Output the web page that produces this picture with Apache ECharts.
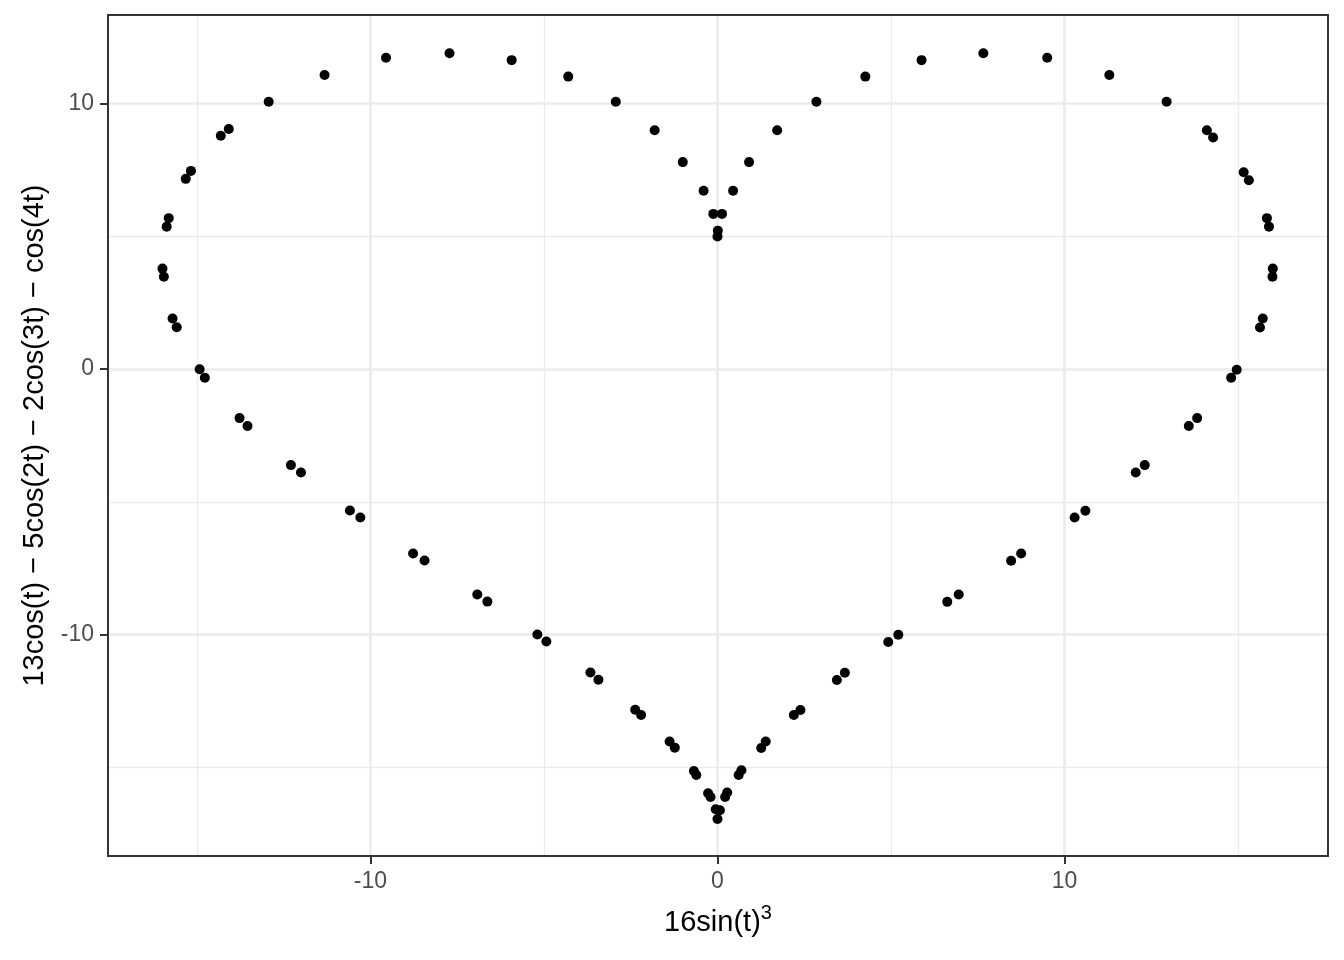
<!DOCTYPE html>
<html>
<head>
<meta charset="utf-8">
<script src="https://cdn.jsdelivr.net/npm/echarts@6/dist/echarts.min.js"></script>
<style>
html,body{margin:0;padding:0;background:#fff;}
#chart{width:1344px;height:960px;}
</style>
</head>
<body>
<div id="chart"></div>
<script>
// Values
const upperLeftX  = [-15.32, -15.17, -14.31, -14.08, -12.93, -11.32, -9.55, -7.72, -5.93, -4.30, -2.93, -1.81, -1.00, -0.40, -0.12];
const upperLeftY  = [7.16, 7.46, 8.78, 9.04, 10.06, 11.07, 11.72, 11.89, 11.63, 11.01, 10.06, 8.99, 7.79, 6.71, 5.84];
const cuspX       = [0.01, 0.00];
const cuspY       = [5.21, 4.99];
const upperRightX = [0.13, 0.45, 0.91, 1.72, 2.85, 4.26, 5.88, 7.66, 9.50, 11.29, 12.94, 14.10, 14.28, 15.16, 15.31];
const upperRightY = [5.84, 6.71, 7.79, 8.99, 10.06, 11.01, 11.63, 11.89, 11.72, 11.07, 10.06, 8.99, 8.72, 7.41, 7.11];
const leftSideX   = [-15.81, -15.87, -15.99, -15.95, -15.70, -15.58, -14.92, -14.77, -13.77, -13.54, -12.29, -12.00];
const leftSideY   = [5.68, 5.36, 3.78, 3.47, 1.90, 1.57, -0.01, -0.33, -1.85, -2.15, -3.62, -3.90];
const rightSideX  = [15.83, 15.89, 16.00, 15.99, 15.71, 15.63, 14.96, 14.80, 13.82, 13.58, 12.31, 12.05];
const rightSideY  = [5.68, 5.36, 3.78, 3.47, 1.90, 1.56, -0.03, -0.33, -1.85, -2.15, -3.62, -3.90];
const lowerLeftX  = [-10.59, -10.29, -8.77, -8.44, -6.92, -6.63, -5.19, -4.93, -3.66, -3.43, -2.37, -2.20, -1.38, -1.23, -0.68, -0.61, -0.27, -0.20];
const lowerLeftY  = [-5.33, -5.59, -6.95, -7.21, -8.49, -8.76, -10.00, -10.26, -11.43, -11.70, -12.83, -13.03, -14.03, -14.26, -15.14, -15.29, -15.98, -16.12];
const lowerRightX = [10.60, 10.29, 8.75, 8.46, 6.95, 6.62, 5.21, 4.92, 3.67, 3.44, 2.39, 2.20, 1.39, 1.26, 0.69, 0.61, 0.28, 0.22];
const lowerRightY = [-5.34, -5.59, -6.95, -7.22, -8.49, -8.77, -10.01, -10.28, -11.44, -11.71, -12.84, -13.03, -14.03, -14.27, -15.11, -15.29, -15.95, -16.12];
const bottomX     = [-0.05, 0.07, 0.00];
const bottomY     = [-16.58, -16.62, -16.95];

const xTicks = [-10, 0, 10];
const yTicks = [-10, 0, 10];
const xMinor = [-15, -5, 5, 15];
const yMinor = [-15, -5, 5];
const xTitle = '16sin(t)';
const xTitleSup = '3';
const yTitle = '13cos(t) \u2212 5cos(2t) \u2212 2cos(3t) \u2212 cos(4t)';

const groupsX = [upperLeftX, cuspX, upperRightX, leftSideX, rightSideX, lowerLeftX, lowerRightX, bottomX];
const groupsY = [upperLeftY, cuspY, upperRightY, leftSideY, rightSideY, lowerLeftY, lowerRightY, bottomY];
const points = [];
groupsX.forEach((gx, g) => gx.forEach((v, i) => points.push([v, groupsY[g][i]])));

const FONT = "'Liberation Sans', Arial, Helvetica, sans-serif";
const gridColor = '#EBEBEB';

const gridLines = [];
xTicks.forEach(v => gridLines.push({xAxis: v, lineStyle: {color: gridColor, width: 2.6, type: 'solid'}}));
yTicks.forEach(v => gridLines.push({yAxis: v, lineStyle: {color: gridColor, width: 2.6, type: 'solid'}}));
xMinor.forEach(v => gridLines.push({xAxis: v, lineStyle: {color: gridColor, width: 1.3, type: 'solid'}}));
yMinor.forEach(v => gridLines.push({yAxis: v, lineStyle: {color: gridColor, width: 1.3, type: 'solid'}}));

const chart = echarts.init(document.getElementById('chart'), null, {renderer: 'canvas'});
chart.setOption({
  animation: false,
  backgroundColor: '#ffffff',
  grid: {left: 108, right: 16, top: 15, bottom: 104, show: true, borderColor: '#333333', borderWidth: 2, backgroundColor: 'transparent', z: 3},
  xAxis: {
    type: 'value', min: -17.56, max: 17.59,
    name: '{b|' + xTitle + '}{s|' + xTitleSup + '}',
    nameLocation: 'middle', nameGap: 47,
    nameTextStyle: {
      rich: {
        b: {fontFamily: FONT, fontSize: 29, color: '#000000', lineHeight: 34, verticalAlign: 'bottom'},
        s: {fontFamily: FONT, fontSize: 20, color: '#000000', lineHeight: 34, verticalAlign: 'top'}
      }
    },
    axisLine: {show: true, onZero: false, lineStyle: {color: '#333333', width: 2}},
    axisTick: {show: true, customValues: xTicks, length: 8, lineStyle: {color: '#333333', width: 2}},
    axisLabel: {customValues: xTicks, margin: 14, fontFamily: FONT, fontSize: 23, color: '#4D4D4D'},
    splitLine: {show: false}
  },
  yAxis: {
    type: 'value', min: -18.34, max: 13.33,
    name: yTitle,
    nameLocation: 'middle', nameGap: 56, nameRotate: 90,
    nameTextStyle: {fontFamily: FONT, fontSize: 29, color: '#000000'},
    axisLine: {show: true, onZero: false, lineStyle: {color: '#333333', width: 2}},
    axisTick: {show: true, customValues: yTicks, length: 8, lineStyle: {color: '#333333', width: 2}},
    axisLabel: {customValues: yTicks, margin: 14, fontFamily: FONT, fontSize: 23, color: '#4D4D4D'},
    splitLine: {show: false}
  },
  series: [
    {
      type: 'scatter', data: [], z: 1, silent: true,
      markLine: {silent: true, symbol: 'none', z: 1, label: {show: false}, emphasis: {disabled: true}, data: gridLines}
    },
    {
      type: 'scatter', data: points, z: 5,
      symbol: 'circle', symbolSize: 10,
      itemStyle: {color: '#000000', opacity: 1}
    }
  ]
});
</script>
</body>
</html>
